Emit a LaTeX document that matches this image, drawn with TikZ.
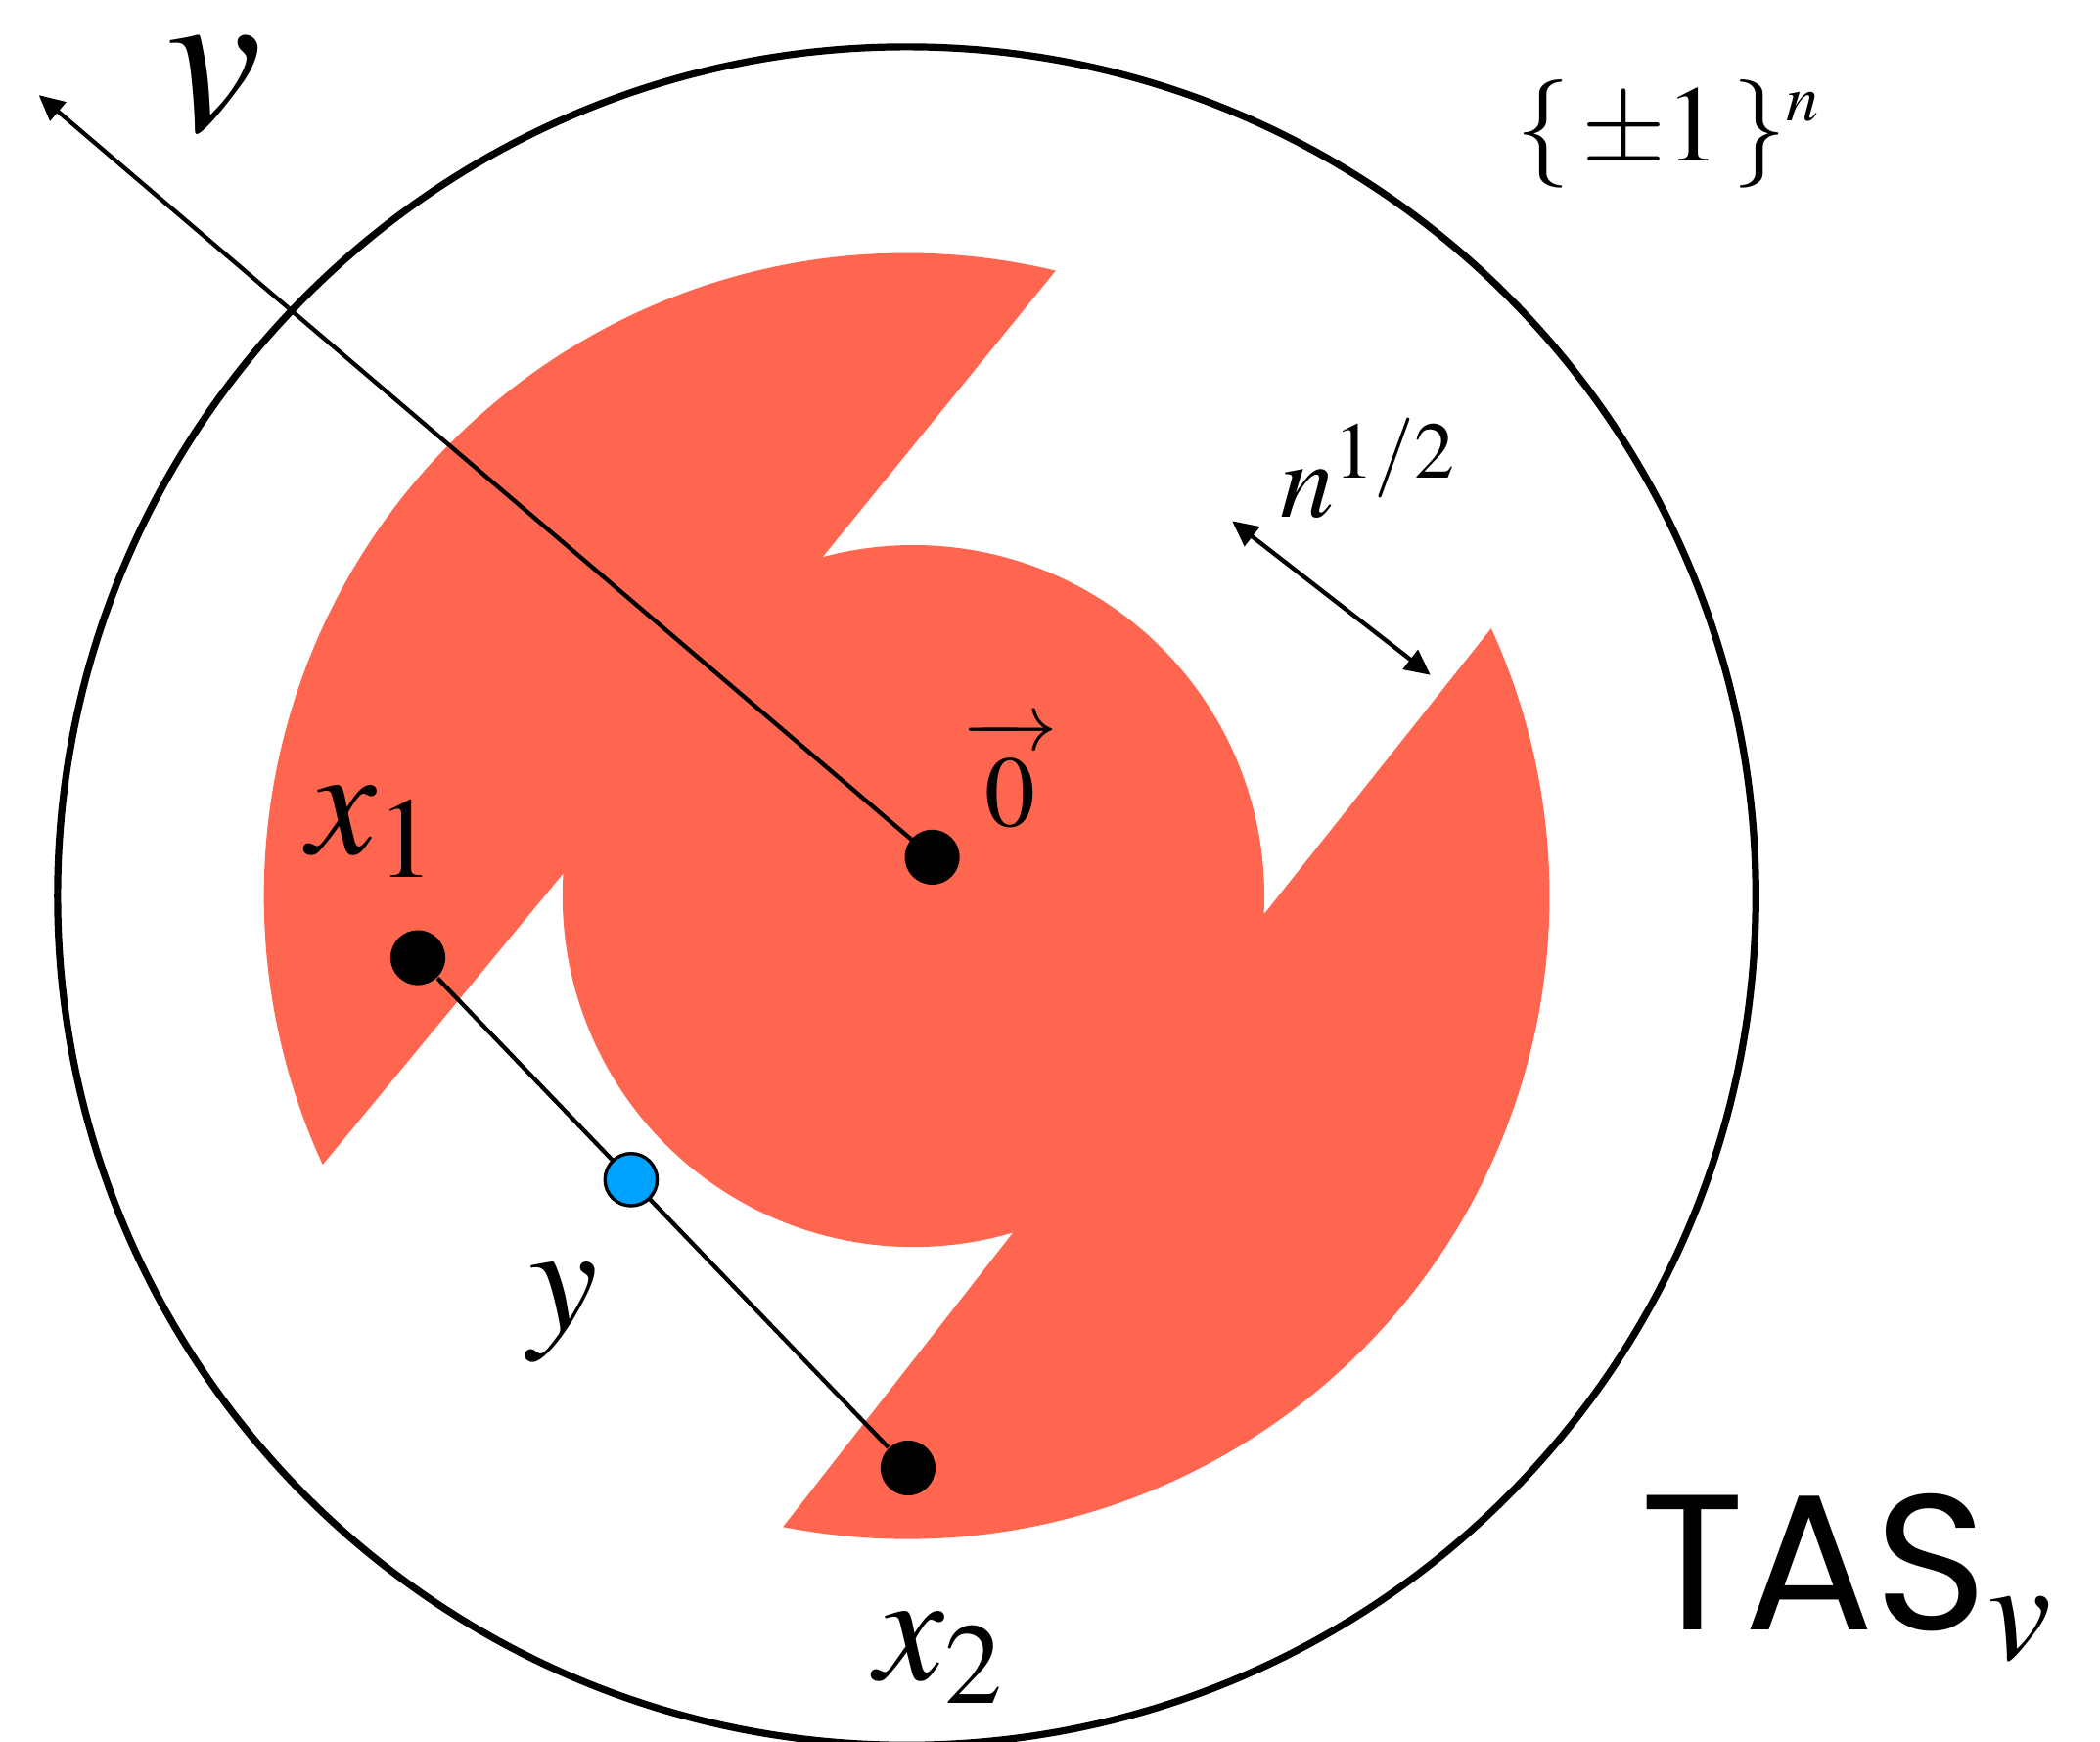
\documentclass[tikz,border=0pt]{standalone}
\usepackage{mathptmx}
\usepackage[no-math]{fontspec}
\setmainfont{Liberation Serif}
\newfontfamily\tasfont{Poppins}
\usetikzlibrary{arrows.meta,positioning,calc}
\definecolor{region}{HTML}{FF6650}
\definecolor{midpt}{HTML}{00A2FF}
% thin arrow over the origin label
\DeclareSymbolFont{lmsyms}{OMS}{lmsy}{m}{n}
\DeclareMathSymbol{\lmrightarrow}{\mathrel}{lmsyms}{"21}
\DeclareMathSymbol{\lmrelbar}{\mathbin}{lmsyms}{"00}
\makeatletter
\newcommand\lmarrowfill{$\m@th\scriptstyle\mathord{\smash{\lmrelbar}}\mkern-7mu\cleaders\hbox{$\m@th\scriptstyle\mkern-2mu\mathord{\smash{\lmrelbar}}\mkern-2mu$}\hfill\mkern-7mu\mathord{\lmrightarrow}$}
\newcommand\overvec[1]{\vbox{\m@th\ialign{##\crcr\lmarrowfill\crcr\noalign{\kern 2pt\nointerlineskip}$\hfil\displaystyle{#1}\hfil$\crcr}}}
\makeatother
\tikzset{
  rim/.style={draw, line width=1.5pt},
  arr/.style={-{Triangle[length=1.9mm, width=1.8mm]}, line width=0.9pt},
  dblarr/.style={{Triangle[length=1.9mm, width=1.8mm]}-{Triangle[length=1.9mm, width=1.8mm]}, line width=0.9pt},
  seg/.style={line width=0.9pt},
  pt/.style={circle, fill=black, inner sep=0pt, minimum size=4.1mm},
  midptdot/.style={circle, draw=black, fill=midpt, line width=0.7pt, inner sep=0pt, minimum size=3.9mm},
  lbl/.style={inner sep=0pt, font=\fontsize{33}{36}\selectfont},
  smalllbl/.style={inner sep=0pt, font=\fontsize{23}{26}\selectfont}
}

\begin{document}
\begin{tikzpicture}
  \useasboundingbox (0,0) rectangle (15.68,13);
  \coordinate (oc) at (6.77,6.31);
  \coordinate (ic) at (6.82,6.31);
  % pinwheel region
  \fill[region]
    ([shift={(76.6:4.80)}]oc) arc[start angle=76.6, end angle=204.7, radius=4.80]
    -- ([shift={(176.3:2.62)}]ic) arc[start angle=176.3, end angle=286.5, radius=2.62]
    -- ([shift={(258.9:4.80)}]oc) arc[start angle=258.9, end angle=384.6, radius=4.80]
    -- ([shift={(-3:2.62)}]ic) arc[start angle=-3, end angle=105, radius=2.62]
    -- cycle;
  \draw[rim] (oc) circle[radius=6.34];

  \node[pt] (zero) at (6.96,6.60) {};
  \node[pt] (x1) at (3.12,5.85) {};
  \node[pt] (x2) at (6.78,2.04) {};
  \coordinate (vtip) at (0.29,12.29);
  \draw[arr] (zero.center) -- (vtip);
  \draw[seg] (x1) -- (x2);
  \node[midptdot] (y) at ($(x1)!0.435!(x2)$) {};

  % labels
  \node[lbl, font=\fontsize{46}{50}\selectfont] (vlab) at (1.60,12.36) {$v$};
  \node[smalllbl, font=\fontsize{21.5}{24}\selectfont] (zerolab) at (7.54,7.22) {$\overvec{\mkern4mu 0\mkern4mu}$};
  \node[lbl] (x1lab) at (2.78,6.79) {$x_1$};
  \node[lbl] (ylab) at (4.21,3.20) {$y$};
  \node[lbl] (x2lab) at (7.02,0.62) {$x_2$};
  \node[smalllbl] (cube) at (12.46,12.00) {$\{\,\pm 1\,\}^{\scriptscriptstyle n}$};
  \node[smalllbl] (gap) at (10.22,9.50) {$n^{1/2}$};
  \node[inner sep=0pt, anchor=base west, font=\fontsize{41}{44}\selectfont] (tas) at (12.24,0.83) {{\tasfont TAS}$_v$};

  \coordinate (wa) at (9.20,9.11);
  \coordinate (wb) at (10.68,7.96);
  \draw[dblarr] (wa) -- (wb);
\end{tikzpicture}
\end{document}
